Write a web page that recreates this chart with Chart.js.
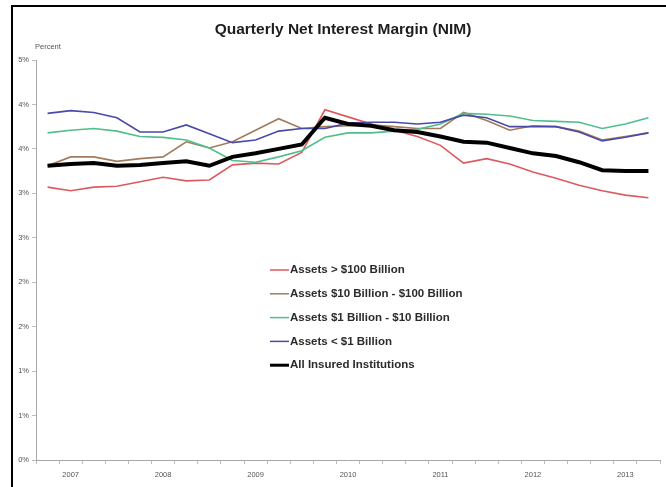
<!DOCTYPE html>
<html>
<head>
<meta charset="utf-8">
<script src="https://cdn.jsdelivr.net/npm/chart.js@4.4.0/dist/chart.umd.min.js"></script>
<style>
  html, body { margin: 0; padding: 0; background: #fff; }
  #wrap { position: relative; width: 666px; height: 487px; }
  #frame { position: absolute; left: 11px; top: 5px; right: 0; bottom: 0;
           border-left: 2px solid #000; border-top: 2px solid #000; pointer-events: none; }
</style>
</head>
<body>
<div id="wrap">
  <canvas id="myChart" width="666" height="487"></canvas>
  <div id="frame"></div>
</div>
<script>
// quarters shown on the x axis
const quarters = ['2006Q4',
  '2007Q1', '2007Q2', '2007Q3', '2007Q4',
  '2008Q1', '2008Q2', '2008Q3', '2008Q4',
  '2009Q1', '2009Q2', '2009Q3', '2009Q4',
  '2010Q1', '2010Q2', '2010Q3', '2010Q4',
  '2011Q1', '2011Q2', '2011Q3', '2011Q4',
  '2012Q1', '2012Q2', '2012Q3', '2012Q4',
  '2013Q1', '2013Q2'];
const yearLabels = ['', '2007', '', '', '', '2008', '', '', '', '2009', '', '', '', '2010',
  '', '', '', '2011', '', '', '', '2012', '', '', '', '2013', ''];

// NIM in percent
const over100B = [3.07, 3.03, 3.07, 3.08, 3.13, 3.18, 3.14, 3.15, 3.32, 3.34, 3.33, 3.46, 3.94,
  3.86, 3.78, 3.71, 3.64, 3.54, 3.34, 3.39, 3.33, 3.24, 3.17, 3.09, 3.03, 2.98, 2.95];
const from10Bto100B = [3.31, 3.41, 3.41, 3.36, 3.39, 3.41, 3.58, 3.51, 3.58, 3.71, 3.84, 3.73, 3.75,
  3.76, 3.77, 3.75, 3.73, 3.73, 3.91, 3.82, 3.71, 3.76, 3.75, 3.70, 3.60, 3.64, 3.68];
const from1Bto10B = [3.68, 3.71, 3.73, 3.70, 3.64, 3.63, 3.60, 3.51, 3.37, 3.35, 3.41, 3.48, 3.63,
  3.68, 3.68, 3.70, 3.72, 3.78, 3.90, 3.89, 3.87, 3.82, 3.81, 3.80, 3.73, 3.78, 3.85];
const under1B = [3.90, 3.93, 3.91, 3.85, 3.69, 3.69, 3.77, 3.67, 3.57, 3.60, 3.70, 3.73, 3.73,
  3.79, 3.80, 3.80, 3.78, 3.80, 3.88, 3.85, 3.75, 3.75, 3.75, 3.69, 3.59, 3.63, 3.68];
const allInsured = [3.31, 3.33, 3.34, 3.31, 3.32, 3.34, 3.36, 3.31, 3.41, 3.45, 3.50, 3.55, 3.85,
  3.78, 3.76, 3.71, 3.69, 3.64, 3.58, 3.57, 3.51, 3.45, 3.42, 3.35, 3.26, 3.25, 3.25];

const chartTitle = 'Quarterly Net Interest Margin (NIM)';

const mkLine = (label, data, color, width, order) => ({
    label: label,
    data: data,
    borderColor: color,
    backgroundColor: color,
    borderWidth: width,
    pointRadius: 0,
    tension: 0,
    order: order
});

// title, "Percent" caption and the legend inside the plot area
const extras = {
    id: 'extras',
    afterDraw(chart) {
        const ctx = chart.ctx;
        ctx.save();

        ctx.font = 'bold 15.5px "Liberation Sans"';
        ctx.fillStyle = '#1e1e1e';
        ctx.textAlign = 'center';
        ctx.textBaseline = 'middle';
        ctx.fillText(chartTitle, 343, 30);

        ctx.font = '7.5px "Liberation Sans"';
        ctx.fillStyle = '#555';
        ctx.textAlign = 'left';
        ctx.textBaseline = 'alphabetic';
        ctx.fillText('Percent', 35, 49);

        const x = 270, y0 = 270, gap = 23.8;
        ctx.font = 'bold 11.5px "Liberation Sans"';
        ctx.textBaseline = 'middle';
        chart.data.datasets.forEach((ds, i) => {
            const y = y0 + i * gap;
            ctx.strokeStyle = ds.borderColor;
            ctx.lineWidth = ds.borderWidth > 2 ? 3 : 1.5;
            ctx.beginPath();
            ctx.moveTo(x, y);
            ctx.lineTo(x + 19, y);
            ctx.stroke();
            ctx.fillStyle = '#2b2b2b';
            ctx.fillText(ds.label, x + 20, y);
        });
        ctx.restore();
    }
};

const ctx = document.getElementById('myChart').getContext('2d');
const myChart = new Chart(ctx, {
    type: 'line',
    data: {
        labels: quarters,
        datasets: [
            mkLine('Assets > $100 Billion', over100B, '#dc5a5e', 1.6, 4),
            mkLine('Assets $10 Billion - $100 Billion', from10Bto100B, '#a27b5c', 1.6, 3),
            mkLine('Assets $1 Billion - $10 Billion', from1Bto10B, '#4fbf8c', 1.6, 2),
            mkLine('Assets < $1 Billion', under1B, '#4b49a8', 1.6, 1),
            mkLine('All Insured Institutions', allInsured, '#000000', 4, 0)
        ]
    },
    plugins: [extras],
    options: {
        responsive: false,
        animation: false,
        layout: { padding: { left: 0, right: 6, top: 60, bottom: 0 } },
        plugins: {
            legend: { display: false },
            tooltip: { enabled: false },
            title: { display: false }
        },
        scales: {
            x: {
                offset: true,
                grid: { drawOnChartArea: false, tickLength: 4, color: '#bdbdbd', offset: true },
                border: { color: '#a8a8a8' },
                ticks: {
                    autoSkip: false,
                    maxRotation: 0,
                    padding: 6,
                    color: '#555',
                    font: { family: '"Liberation Sans"', size: 7.5 },
                    callback: (v, i) => yearLabels[i]
                },
                afterFit: s => { s.height = 27; }
            },
            y: {
                min: 0,
                max: 4.5,
                ticks: {
                    stepSize: 0.5,
                    padding: 3,
                    color: '#555',
                    font: { family: '"Liberation Sans"', size: 7.5 },
                    callback: v => Math.round(v) + '%'
                },
                grid: { drawOnChartArea: false, tickLength: 4, color: '#bdbdbd' },
                border: { color: '#a8a8a8' },
                afterFit: s => { s.width = 36; }
            }
        }
    }
});
</script>
</body>
</html>
